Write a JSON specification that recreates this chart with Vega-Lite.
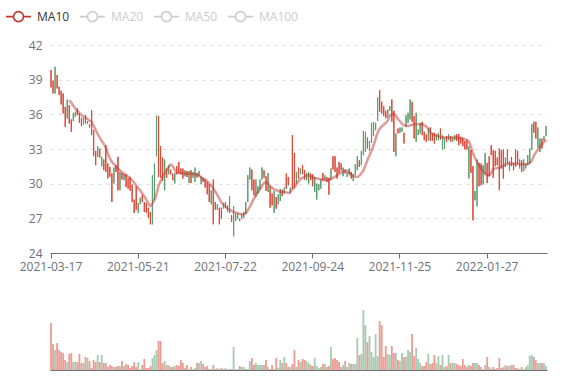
{
"$schema":"https://vega.github.io/schema/vega-lite/v6.json",
"padding":{"left":5,"top":3,"right":10,"bottom":5},
"config":{"font":"Open Sans","view":{"stroke":null},"axis":{"labelColor":"#6e7079","labelFontSize":12,"title":null},"axisY":{"labelOverlap":false,"tickCount":10}},
"spacing":38,
"resolve":{"legend":{"color":"independent"}},
"datasets":{"k":[
{"d":"2021-03-17","o":38.33,"h":39.83,"l":38.33,"c":39.83,"v":47},
{"d":"2021-03-18","o":37.81,"h":38.91,"l":37.81,"c":38.91,"v":26},
{"d":"2021-03-19","o":40.12,"h":40.12,"l":37.81,"c":37.81,"v":20},
{"d":"2021-03-22","o":38.24,"h":39.40,"l":38.24,"c":39.40,"v":27},
{"d":"2021-03-23","o":37.67,"h":38.39,"l":37.67,"c":38.39,"v":20},
{"d":"2021-03-24","o":36.86,"h":38.04,"l":36.86,"c":38.04,"v":18},
{"d":"2021-03-25","o":36.08,"h":37.81,"l":36.08,"c":37.81,"v":17},
{"d":"2021-03-26","o":34.92,"h":36.65,"l":34.92,"c":36.65,"v":10},
{"d":"2021-03-29","o":37.29,"h":37.29,"l":35.64,"c":35.64,"v":8},
{"d":"2021-03-30","o":35.21,"h":36.80,"l":35.21,"c":36.80,"v":16,"m":37.2},
{"d":"2021-03-31","o":34.49,"h":35.56,"l":34.49,"c":35.56,"v":17,"m":37.0},
{"d":"2021-04-01","o":36.13,"h":36.13,"l":35.41,"c":35.41,"v":8,"m":36.75},
{"d":"2021-04-02","o":36.22,"h":36.22,"l":35.79,"c":35.79,"v":8,"m":36.5},
{"d":"2021-04-06","o":35.93,"h":36.51,"l":35.93,"c":36.51,"v":8,"m":36.3},
{"d":"2021-04-07","o":35.27,"h":36.08,"l":35.27,"c":36.08,"v":16,"m":36.1},
{"d":"2021-04-08","o":34.98,"h":35.70,"l":34.98,"c":35.70,"v":7,"m":35.95},
{"d":"2021-04-09","o":35.64,"h":35.64,"l":35.12,"c":35.12,"v":7,"m":35.8},
{"d":"2021-04-12","o":35.21,"h":35.93,"l":35.21,"c":35.93,"v":13,"m":35.7},
{"d":"2021-04-13","o":35.41,"h":35.41,"l":35.15,"c":35.15,"v":12,"m":35.6},
{"d":"2021-04-14","o":34.86,"h":35.15,"l":34.86,"c":35.15,"v":9,"m":35.45},
{"d":"2021-04-15","o":34.20,"h":36.37,"l":34.20,"c":36.37,"v":2,"m":35.35},
{"d":"2021-04-16","o":32.38,"h":34.63,"l":32.38,"c":34.63,"v":10,"m":35.0},
{"d":"2021-04-19","o":31.60,"h":32.84,"l":31.60,"c":32.84,"v":8,"m":34.65},
{"d":"2021-04-20","o":33.24,"h":33.24,"l":32.32,"c":32.32,"v":15,"m":34.3},
{"d":"2021-04-21","o":32.26,"h":33.04,"l":32.26,"c":33.04,"v":8,"m":34.0},
{"d":"2021-04-22","o":32.32,"h":32.32,"l":31.51,"c":31.51,"v":15,"m":33.7},
{"d":"2021-04-23","o":31.16,"h":32.09,"l":31.16,"c":32.09,"v":7,"m":33.45},
{"d":"2021-04-26","o":31.02,"h":33.33,"l":31.02,"c":33.33,"v":7,"m":33.1},
{"d":"2021-04-27","o":30.44,"h":31.74,"l":30.44,"c":31.74,"v":3,"m":32.6},
{"d":"2021-04-28","o":30.59,"h":31.45,"l":30.59,"c":31.45,"v":5,"m":32.2},
{"d":"2021-04-29","o":28.42,"h":30.87,"l":28.42,"c":30.87,"v":4,"m":31.9},
{"d":"2021-04-30","o":31.39,"h":31.39,"l":30.01,"c":30.01,"v":3,"m":31.7},
{"d":"2021-05-06","o":31.02,"h":31.60,"l":31.02,"c":31.60,"v":3,"m":31.5},
{"d":"2021-05-07","o":29.43,"h":32.32,"l":29.43,"c":32.32,"v":4,"m":31.3},
{"d":"2021-05-10","o":31.02,"h":31.02,"l":29.43,"c":29.43,"v":4,"m":31.15},
{"d":"2021-05-11","o":30.35,"h":30.93,"l":30.35,"c":30.93,"v":9,"m":31.0},
{"d":"2021-05-12","o":30.82,"h":30.82,"l":30.30,"c":30.30,"v":4,"m":30.85},
{"d":"2021-05-13","o":29.72,"h":30.82,"l":29.72,"c":30.82,"v":6,"m":30.75},
{"d":"2021-05-14","o":29.57,"h":30.44,"l":29.57,"c":30.44,"v":5,"m":30.6},
{"d":"2021-05-17","o":29.37,"h":30.59,"l":29.37,"c":30.59,"v":2,"m":30.45},
{"d":"2021-05-18","o":28.42,"h":29.90,"l":28.42,"c":29.90,"v":4,"m":30.3},
{"d":"2021-05-19","o":27.46,"h":28.62,"l":27.46,"c":28.62,"v":8,"m":30.1},
{"d":"2021-05-20","o":27.75,"h":29.77,"l":27.75,"c":29.77,"v":3,"m":29.85},
{"d":"2021-05-21","o":28.33,"h":28.33,"l":27.46,"c":27.46,"v":8,"m":29.6},
{"d":"2021-05-24","o":28.79,"h":28.79,"l":28.21,"c":28.21,"v":1,"m":29.4},
{"d":"2021-05-25","o":28.42,"h":28.99,"l":28.42,"c":28.99,"v":5,"m":29.15},
{"d":"2021-05-26","o":27.55,"h":28.42,"l":27.55,"c":28.42,"v":11,"m":28.9},
{"d":"2021-05-27","o":27.46,"h":28.33,"l":27.46,"c":28.33,"v":2,"m":28.6},
{"d":"2021-05-28","o":27.06,"h":27.92,"l":27.06,"c":27.92,"v":2,"m":28.3},
{"d":"2021-05-31","o":26.48,"h":27.55,"l":26.48,"c":27.55,"v":4,"m":28.05},
{"d":"2021-06-01","o":30.73,"h":30.73,"l":26.48,"c":26.48,"v":12,"m":28.3},
{"d":"2021-06-02","o":31.74,"h":31.74,"l":28.56,"c":28.56,"v":15,"m":28.6},
{"d":"2021-06-03","o":35.87,"h":35.87,"l":32.37,"c":32.37,"v":20,"m":29.1},
{"d":"2021-06-04","o":30.58,"h":35.87,"l":30.58,"c":35.87,"v":29,"m":29.8},
{"d":"2021-06-07","o":30.52,"h":33.24,"l":30.52,"c":33.24,"v":29,"m":30.2},
{"d":"2021-06-08","o":30.24,"h":32.26,"l":30.24,"c":32.26,"v":7,"m":30.6},
{"d":"2021-06-09","o":32.09,"h":32.09,"l":29.43,"c":29.43,"v":9,"m":30.9},
{"d":"2021-06-10","o":30.52,"h":31.31,"l":30.52,"c":31.31,"v":5,"m":31.2},
{"d":"2021-06-11","o":31.59,"h":31.59,"l":30.81,"c":30.81,"v":5,"m":31.45},
{"d":"2021-06-15","o":30.81,"h":31.22,"l":30.81,"c":31.22,"v":3,"m":31.65},
{"d":"2021-06-16","o":30.29,"h":30.87,"l":30.29,"c":30.87,"v":3,"m":31.5},
{"d":"2021-06-17","o":30.93,"h":30.93,"l":30.01,"c":30.01,"v":4,"m":31.2},
{"d":"2021-06-18","o":30.81,"h":31.51,"l":30.81,"c":31.51,"v":5,"m":30.95},
{"d":"2021-06-21","o":30.93,"h":31.88,"l":30.93,"c":31.88,"v":4,"m":30.9},
{"d":"2021-06-22","o":30.81,"h":31.31,"l":30.81,"c":31.31,"v":10,"m":30.9},
{"d":"2021-06-23","o":30.44,"h":31.31,"l":30.44,"c":31.31,"v":7,"m":30.9},
{"d":"2021-06-24","o":31.16,"h":31.16,"l":30.64,"c":30.64,"v":2,"m":30.9},
{"d":"2021-06-25","o":30.58,"h":31.10,"l":30.58,"c":31.10,"v":5,"m":30.87},
{"d":"2021-06-28","o":31.10,"h":31.10,"l":30.06,"c":30.06,"v":1,"m":30.85},
{"d":"2021-06-29","o":30.06,"h":31.16,"l":30.06,"c":31.16,"v":3,"m":30.85},
{"d":"2021-06-30","o":31.02,"h":31.02,"l":30.52,"c":30.52,"v":1,"m":30.83},
{"d":"2021-07-01","o":31.39,"h":31.39,"l":30.15,"c":30.15,"v":2,"m":30.82},
{"d":"2021-07-02","o":30.52,"h":30.93,"l":30.52,"c":30.93,"v":7,"m":30.8},
{"d":"2021-07-05","o":31.10,"h":31.10,"l":30.64,"c":30.64,"v":7,"m":30.7},
{"d":"2021-07-06","o":30.64,"h":30.64,"l":29.95,"c":29.95,"v":9,"m":30.55},
{"d":"2021-07-07","o":30.15,"h":30.52,"l":30.15,"c":30.52,"v":6,"m":30.4},
{"d":"2021-07-08","o":29.66,"h":30.35,"l":29.66,"c":30.35,"v":3,"m":30.35},
{"d":"2021-07-09","o":29.08,"h":30.15,"l":29.08,"c":30.15,"v":4,"m":30.2},
{"d":"2021-07-12","o":28.42,"h":29.95,"l":28.42,"c":29.95,"v":1,"m":30.0},
{"d":"2021-07-13","o":29.43,"h":29.43,"l":28.21,"c":28.21,"v":1,"m":29.8},
{"d":"2021-07-14","o":26.48,"h":30.35,"l":26.48,"c":30.35,"v":5,"m":29.6},
{"d":"2021-07-15","o":27.75,"h":28.42,"l":27.75,"c":28.42,"v":1,"m":29.3},
{"d":"2021-07-16","o":28.21,"h":28.21,"l":27.75,"c":27.75,"v":2,"m":29.0},
{"d":"2021-07-19","o":26.48,"h":27.92,"l":26.48,"c":27.92,"v":1,"m":28.7},
{"d":"2021-07-20","o":26.97,"h":27.92,"l":26.97,"c":27.92,"v":2,"m":28.4},
{"d":"2021-07-21","o":28.33,"h":28.33,"l":27.84,"c":27.84,"v":1,"m":28.2},
{"d":"2021-07-22","o":28.42,"h":28.42,"l":27.92,"c":27.92,"v":2,"m":28.0},
{"d":"2021-07-23","o":28.13,"h":28.13,"l":27.55,"c":27.55,"v":1,"m":27.85},
{"d":"2021-07-26","o":28.91,"h":28.91,"l":27.46,"c":27.46,"v":1,"m":27.75},
{"d":"2021-07-27","o":26.68,"h":27.26,"l":26.68,"c":27.26,"v":1,"m":27.65},
{"d":"2021-07-28","o":28.04,"h":28.04,"l":25.44,"c":25.44,"v":23,"m":27.55},
{"d":"2021-07-29","o":27.40,"h":27.40,"l":26.77,"c":26.77,"v":1,"m":27.5},
{"d":"2021-07-30","o":27.46,"h":27.46,"l":26.97,"c":26.97,"v":1,"m":27.45},
{"d":"2021-08-02","o":26.77,"h":26.97,"l":26.77,"c":26.97,"v":4,"m":27.4},
{"d":"2021-08-03","o":27.35,"h":27.35,"l":26.97,"c":26.97,"v":3,"m":27.37},
{"d":"2021-08-04","o":27.55,"h":27.55,"l":27.06,"c":27.06,"v":3,"m":27.35},
{"d":"2021-08-05","o":28.42,"h":28.42,"l":27.40,"c":27.40,"v":1,"m":27.45},
{"d":"2021-08-06","o":30.73,"h":30.73,"l":28.42,"c":28.42,"v":1,"m":27.7},
{"d":"2021-08-09","o":31.39,"h":31.39,"l":30.35,"c":30.35,"v":9,"m":28.0},
{"d":"2021-08-10","o":29.43,"h":31.22,"l":29.43,"c":31.22,"v":12,"m":28.35},
{"d":"2021-08-11","o":28.99,"h":30.35,"l":28.99,"c":30.35,"v":5,"m":28.7},
{"d":"2021-08-12","o":30.35,"h":30.35,"l":28.85,"c":28.85,"v":7,"m":29.0},
{"d":"2021-08-13","o":29.77,"h":29.77,"l":29.14,"c":29.14,"v":5,"m":29.25},
{"d":"2021-08-17","o":30.35,"h":30.35,"l":29.48,"c":29.48,"v":5,"m":29.5},
{"d":"2021-08-18","o":31.39,"h":31.39,"l":30.35,"c":30.35,"v":5,"m":29.8},
{"d":"2021-08-19","o":30.52,"h":31.16,"l":30.52,"c":31.16,"v":5,"m":30.05},
{"d":"2021-08-20","o":29.37,"h":30.64,"l":29.37,"c":30.64,"v":10,"m":30.15},
{"d":"2021-08-23","o":30.93,"h":30.93,"l":29.28,"c":29.28,"v":3,"m":30.0},
{"d":"2021-08-24","o":27.92,"h":29.77,"l":27.92,"c":29.77,"v":1,"m":29.8},
{"d":"2021-08-25","o":28.13,"h":29.14,"l":28.13,"c":29.14,"v":5,"m":29.65},
{"d":"2021-08-26","o":29.37,"h":29.37,"l":27.46,"c":27.46,"v":1,"m":29.5},
{"d":"2021-08-27","o":27.84,"h":28.85,"l":27.84,"c":28.85,"v":12,"m":29.45},
{"d":"2021-08-30","o":29.08,"h":29.08,"l":28.21,"c":28.21,"v":2,"m":29.35},
{"d":"2021-08-31","o":29.57,"h":29.57,"l":28.50,"c":28.50,"v":10,"m":29.3},
{"d":"2021-09-01","o":28.91,"h":29.48,"l":28.91,"c":29.48,"v":7,"m":29.28},
{"d":"2021-09-02","o":29.66,"h":29.66,"l":29.14,"c":29.14,"v":13,"m":29.27},
{"d":"2021-09-03","o":29.57,"h":30.87,"l":29.57,"c":30.87,"v":7,"m":29.25},
{"d":"2021-09-06","o":29.86,"h":30.58,"l":29.86,"c":30.58,"v":3,"m":29.2},
{"d":"2021-09-07","o":29.66,"h":29.66,"l":29.14,"c":29.14,"v":3,"m":29.3},
{"d":"2021-09-08","o":29.57,"h":34.20,"l":29.57,"c":34.20,"v":6,"m":29.5},
{"d":"2021-09-09","o":29.66,"h":32.66,"l":29.66,"c":32.66,"v":20,"m":29.7},
{"d":"2021-09-10","o":31.02,"h":31.02,"l":30.01,"c":30.01,"v":3,"m":29.95},
{"d":"2021-09-13","o":30.44,"h":31.39,"l":30.44,"c":31.39,"v":10,"m":30.2},
{"d":"2021-09-14","o":31.31,"h":31.31,"l":30.81,"c":30.81,"v":8,"m":30.4},
{"d":"2021-09-15","o":30.81,"h":31.59,"l":30.81,"c":31.59,"v":11,"m":30.5},
{"d":"2021-09-16","o":30.35,"h":31.16,"l":30.35,"c":31.16,"v":10,"m":30.6},
{"d":"2021-09-17","o":30.93,"h":30.93,"l":30.30,"c":30.30,"v":9,"m":30.7},
{"d":"2021-09-22","o":31.02,"h":31.02,"l":30.01,"c":30.01,"v":7,"m":30.73},
{"d":"2021-09-23","o":30.30,"h":30.87,"l":30.30,"c":30.87,"v":5,"m":30.65},
{"d":"2021-09-24","o":29.77,"h":30.82,"l":29.77,"c":30.82,"v":4,"m":30.55},
{"d":"2021-09-27","o":30.58,"h":30.58,"l":29.28,"c":29.28,"v":12,"m":30.5},
{"d":"2021-09-28","o":30.01,"h":30.01,"l":28.62,"c":28.62,"v":4,"m":30.45},
{"d":"2021-09-29","o":29.95,"h":29.95,"l":29.43,"c":29.43,"v":2,"m":30.42},
{"d":"2021-09-30","o":30.35,"h":30.35,"l":29.57,"c":29.57,"v":3,"m":30.38},
{"d":"2021-10-04","o":30.30,"h":30.93,"l":30.30,"c":30.93,"v":6,"m":30.33},
{"d":"2021-10-05","o":30.73,"h":30.73,"l":30.30,"c":30.30,"v":6,"m":30.3},
{"d":"2021-10-06","o":30.15,"h":30.58,"l":30.15,"c":30.58,"v":3,"m":30.3},
{"d":"2021-10-07","o":29.05,"h":30.52,"l":29.05,"c":30.52,"v":4,"m":30.32},
{"d":"2021-10-08","o":31.31,"h":31.31,"l":30.35,"c":30.35,"v":23,"m":30.4},
{"d":"2021-10-11","o":31.22,"h":32.37,"l":31.22,"c":32.37,"v":11,"m":30.5},
{"d":"2021-10-12","o":31.02,"h":32.37,"l":31.02,"c":32.37,"v":12,"m":30.6},
{"d":"2021-10-13","o":30.44,"h":31.39,"l":30.44,"c":31.39,"v":10,"m":30.72},
{"d":"2021-10-14","o":30.93,"h":31.88,"l":30.93,"c":31.88,"v":8,"m":30.85},
{"d":"2021-10-15","o":31.16,"h":31.74,"l":31.16,"c":31.74,"v":3,"m":30.95},
{"d":"2021-10-18","o":31.39,"h":31.39,"l":30.64,"c":30.64,"v":5,"m":31.05},
{"d":"2021-10-19","o":30.87,"h":31.22,"l":30.87,"c":31.22,"v":9,"m":31.12},
{"d":"2021-10-20","o":31.02,"h":31.02,"l":30.58,"c":30.58,"v":3,"m":31.15},
{"d":"2021-10-21","o":31.31,"h":31.31,"l":30.73,"c":30.73,"v":7,"m":31.0},
{"d":"2021-10-22","o":30.44,"h":31.02,"l":30.44,"c":31.02,"v":6,"m":30.8},
{"d":"2021-10-25","o":30.82,"h":30.82,"l":30.24,"c":30.24,"v":6,"m":30.65},
{"d":"2021-10-26","o":31.68,"h":31.68,"l":30.73,"c":30.73,"v":6,"m":30.6},
{"d":"2021-10-27","o":32.37,"h":32.37,"l":31.16,"c":31.16,"v":32,"m":30.58},
{"d":"2021-10-28","o":31.45,"h":32.03,"l":31.45,"c":32.03,"v":15,"m":30.7},
{"d":"2021-10-29","o":32.84,"h":32.84,"l":31.60,"c":31.60,"v":16,"m":30.9},
{"d":"2021-11-01","o":34.57,"h":34.57,"l":32.46,"c":32.46,"v":60,"m":31.15},
{"d":"2021-11-02","o":34.49,"h":34.49,"l":32.75,"c":32.75,"v":45,"m":31.6},
{"d":"2021-11-03","o":33.04,"h":33.99,"l":33.04,"c":33.99,"v":28,"m":32.05},
{"d":"2021-11-04","o":33.71,"h":33.71,"l":32.84,"c":32.84,"v":34,"m":32.45},
{"d":"2021-11-05","o":35.27,"h":35.27,"l":33.53,"c":33.53,"v":18,"m":32.85},
{"d":"2021-11-08","o":35.35,"h":35.35,"l":34.11,"c":34.11,"v":13,"m":33.3},
{"d":"2021-11-09","o":35.27,"h":35.27,"l":34.63,"c":34.63,"v":36,"m":33.85},
{"d":"2021-11-10","o":37.46,"h":37.46,"l":35.44,"c":35.44,"v":14,"m":34.4},
{"d":"2021-11-11","o":36.22,"h":38.10,"l":36.22,"c":38.10,"v":49,"m":34.75},
{"d":"2021-11-12","o":36.08,"h":37.09,"l":36.08,"c":37.09,"v":45,"m":34.95},
{"d":"2021-11-15","o":35.84,"h":36.71,"l":35.84,"c":36.71,"v":13,"m":35.1},
{"d":"2021-11-16","o":35.64,"h":36.31,"l":35.64,"c":36.31,"v":24,"m":35.25},
{"d":"2021-11-17","o":36.42,"h":36.42,"l":35.73,"c":35.73,"v":16,"m":35.45},
{"d":"2021-11-18","o":36.71,"h":36.71,"l":36.31,"c":36.31,"v":15,"m":35.85},
{"d":"2021-11-19","o":35.35,"h":37.29,"l":35.35,"c":37.29,"v":24,"m":36.0},
{"d":"2021-11-22","o":32.75,"h":36.31,"l":32.75,"c":36.31,"v":17,"m":36.05},
{"d":"2021-11-23","o":34.34,"h":34.34,"l":32.38,"c":32.38,"v":17,"m":35.85},
{"d":"2021-11-24","o":34.34,"h":34.77,"l":34.34,"c":34.77,"v":10,"m":35.6},
{"d":"2021-11-25","o":34.86,"h":34.86,"l":34.40,"c":34.40,"v":9,"m":35.4},
{"d":"2021-11-26","o":34.86,"h":34.86,"l":34.49,"c":34.49,"v":17,"m":35.2},
{"d":"2021-11-29","o":33.47,"h":34.40,"l":33.47,"c":34.40,"v":13,"m":35.05},
{"d":"2021-11-30","o":35.93,"h":35.93,"l":34.92,"c":34.92,"v":13,"m":35.0},
{"d":"2021-12-01","o":36.13,"h":36.13,"l":35.27,"c":35.27,"v":20,"m":34.98},
{"d":"2021-12-02","o":37.29,"h":37.29,"l":35.55,"c":35.55,"v":18,"m":35.05},
{"d":"2021-12-03","o":35.35,"h":37.09,"l":35.35,"c":37.09,"v":36,"m":35.1},
{"d":"2021-12-06","o":33.91,"h":35.84,"l":33.91,"c":35.84,"v":14,"m":35.15},
{"d":"2021-12-07","o":36.13,"h":36.13,"l":33.62,"c":33.62,"v":22,"m":35.15},
{"d":"2021-12-08","o":34.69,"h":34.69,"l":34.20,"c":34.20,"v":11,"m":35.15},
{"d":"2021-12-09","o":35.27,"h":35.27,"l":34.34,"c":34.34,"v":7,"m":35.15},
{"d":"2021-12-10","o":34.20,"h":35.35,"l":34.20,"c":35.35,"v":4,"m":35.15},
{"d":"2021-12-13","o":33.76,"h":34.49,"l":33.76,"c":34.49,"v":4,"m":35.05},
{"d":"2021-12-14","o":33.62,"h":34.28,"l":33.62,"c":34.28,"v":8,"m":34.95},
{"d":"2021-12-15","o":34.77,"h":34.77,"l":33.76,"c":33.76,"v":16,"m":34.75},
{"d":"2021-12-16","o":33.70,"h":34.86,"l":33.70,"c":34.86,"v":6,"m":34.5},
{"d":"2021-12-17","o":33.70,"h":34.34,"l":33.70,"c":34.34,"v":7,"m":34.3},
{"d":"2021-12-20","o":33.47,"h":34.40,"l":33.47,"c":34.40,"v":15,"m":34.2},
{"d":"2021-12-21","o":34.28,"h":34.28,"l":33.76,"c":33.76,"v":7,"m":34.15},
{"d":"2021-12-22","o":34.40,"h":34.40,"l":33.76,"c":33.76,"v":14,"m":34.1},
{"d":"2021-12-23","o":33.82,"h":34.77,"l":33.82,"c":34.77,"v":5,"m":34.05},
{"d":"2021-12-24","o":34.20,"h":34.20,"l":32.95,"c":32.95,"v":15,"m":34.02},
{"d":"2021-12-27","o":33.99,"h":33.99,"l":33.04,"c":33.04,"v":3,"m":34.0},
{"d":"2021-12-28","o":33.62,"h":34.11,"l":33.62,"c":34.11,"v":4,"m":34.0},
{"d":"2021-12-29","o":34.28,"h":34.28,"l":33.76,"c":33.76,"v":15,"m":34.0},
{"d":"2021-12-30","o":33.62,"h":34.11,"l":33.62,"c":34.11,"v":7,"m":34.0},
{"d":"2022-01-04","o":33.99,"h":33.99,"l":33.62,"c":33.62,"v":7,"m":34.0},
{"d":"2022-01-05","o":34.20,"h":34.20,"l":33.76,"c":33.76,"v":7,"m":34.0},
{"d":"2022-01-06","o":33.70,"h":34.28,"l":33.70,"c":34.28,"v":6,"m":34.0},
{"d":"2022-01-07","o":33.33,"h":34.28,"l":33.33,"c":34.28,"v":5,"m":33.98},
{"d":"2022-01-10","o":33.47,"h":33.99,"l":33.47,"c":33.99,"v":4,"m":33.97},
{"d":"2022-01-11","o":33.24,"h":33.91,"l":33.24,"c":33.91,"v":11,"m":33.92},
{"d":"2022-01-12","o":32.95,"h":33.70,"l":32.95,"c":33.70,"v":5,"m":33.85},
{"d":"2022-01-13","o":32.95,"h":33.76,"l":32.95,"c":33.76,"v":3,"m":33.78},
{"d":"2022-01-14","o":33.24,"h":33.24,"l":30.44,"c":30.44,"v":5,"m":33.62},
{"d":"2022-01-17","o":30.93,"h":32.90,"l":30.93,"c":32.90,"v":4,"m":33.2},
{"d":"2022-01-18","o":26.83,"h":31.51,"l":26.83,"c":31.51,"v":7,"m":32.65},
{"d":"2022-01-19","o":29.37,"h":29.37,"l":28.56,"c":28.56,"v":7,"m":32.25},
{"d":"2022-01-20","o":32.09,"h":32.09,"l":28.04,"c":28.04,"v":7,"m":31.9},
{"d":"2022-01-21","o":29.77,"h":31.80,"l":29.77,"c":31.80,"v":5,"m":31.6},
{"d":"2022-01-24","o":29.86,"h":31.74,"l":29.86,"c":31.74,"v":3,"m":31.3},
{"d":"2022-01-25","o":31.60,"h":31.60,"l":29.95,"c":29.95,"v":1,"m":31.05},
{"d":"2022-01-26","o":32.66,"h":32.66,"l":30.81,"c":30.81,"v":5,"m":30.85},
{"d":"2022-01-27","o":30.06,"h":31.80,"l":30.06,"c":31.80,"v":13,"m":30.75},
{"d":"2022-01-28","o":30.64,"h":32.37,"l":30.64,"c":32.37,"v":3,"m":30.73},
{"d":"2022-02-07","o":32.46,"h":33.33,"l":32.46,"c":33.33,"v":1,"m":30.95},
{"d":"2022-02-08","o":30.52,"h":32.90,"l":30.52,"c":32.90,"v":3,"m":31.25},
{"d":"2022-02-09","o":31.51,"h":32.84,"l":31.51,"c":32.84,"v":1,"m":31.32},
{"d":"2022-02-10","o":31.60,"h":32.26,"l":31.60,"c":32.26,"v":2,"m":31.35},
{"d":"2022-02-11","o":29.43,"h":33.04,"l":29.43,"c":33.04,"v":12,"m":31.38},
{"d":"2022-02-14","o":31.31,"h":32.90,"l":31.31,"c":32.90,"v":2,"m":31.45},
{"d":"2022-02-15","o":30.44,"h":32.95,"l":30.44,"c":32.95,"v":3,"m":31.55},
{"d":"2022-02-16","o":32.26,"h":32.26,"l":31.45,"c":31.45,"v":5,"m":31.65},
{"d":"2022-02-17","o":31.74,"h":32.95,"l":31.74,"c":32.95,"v":4,"m":31.7},
{"d":"2022-02-18","o":31.97,"h":31.97,"l":31.10,"c":31.10,"v":4,"m":31.72},
{"d":"2022-02-21","o":31.51,"h":32.32,"l":31.51,"c":32.32,"v":5,"m":31.73},
{"d":"2022-02-22","o":31.16,"h":31.80,"l":31.16,"c":31.80,"v":5,"m":31.74},
{"d":"2022-02-23","o":31.45,"h":32.95,"l":31.45,"c":32.95,"v":2,"m":31.72},
{"d":"2022-02-24","o":31.68,"h":32.84,"l":31.68,"c":32.84,"v":2,"m":31.7},
{"d":"2022-02-25","o":32.09,"h":32.09,"l":31.31,"c":31.31,"v":1,"m":31.68},
{"d":"2022-02-28","o":31.02,"h":32.03,"l":31.02,"c":32.03,"v":3,"m":31.68},
{"d":"2022-03-01","o":32.09,"h":32.09,"l":31.10,"c":31.10,"v":1,"m":31.68},
{"d":"2022-03-02","o":31.74,"h":31.74,"l":31.31,"c":31.31,"v":3,"m":31.68},
{"d":"2022-03-03","o":32.46,"h":32.46,"l":31.60,"c":31.60,"v":5,"m":31.68},
{"d":"2022-03-04","o":33.04,"h":33.04,"l":31.74,"c":31.74,"v":14,"m":31.8},
{"d":"2022-03-07","o":35.15,"h":35.15,"l":32.95,"c":32.95,"v":15,"m":32.0},
{"d":"2022-03-08","o":34.40,"h":35.35,"l":34.40,"c":35.35,"v":13,"m":32.4},
{"d":"2022-03-09","o":33.91,"h":35.35,"l":33.91,"c":35.35,"v":10,"m":32.7},
{"d":"2022-03-10","o":34.86,"h":34.86,"l":33.13,"c":33.13,"v":7,"m":32.95},
{"d":"2022-03-11","o":33.91,"h":33.91,"l":32.75,"c":32.75,"v":7,"m":33.2},
{"d":"2022-03-14","o":33.04,"h":33.91,"l":33.04,"c":33.91,"v":7,"m":33.4},
{"d":"2022-03-15","o":34.11,"h":34.11,"l":33.76,"c":33.76,"v":7,"m":33.6},
{"d":"2022-03-16","o":34.98,"h":34.98,"l":34.11,"c":34.11,"v":4,"m":33.82}
]},
"vconcat":[
{
"width":497,"height":208,
"data":{"name":"k"},
"encoding":{"x":{"field":"d","type":"ordinal","sort":null,"scale":{"type":"band","paddingInner":0,"paddingOuter":0},
 "axis":{"values":["2021-03-17","2021-05-21","2021-07-22","2021-09-24","2021-11-25","2022-01-27"],"labelAngle":0,"labelOverlap":false,"domainColor":"#6e7079","tickColor":"#6e7079","tickSize":5,"labelPadding":3,"grid":false}}},
"layer":[
 {"mark":{"type":"rule","strokeWidth":1},
  "encoding":{"y":{"field":"l","type":"quantitative","scale":{"domain":[24,42],"zero":false,"nice":false},
   "axis":{"values":[24,27,30,33,36,39,42],"tickCount":10,"labelOverlap":false,"domain":false,"ticks":false,"tickSize":0,"labelPadding":8,"gridColor":"#e0e0e0","gridDash":[4,4],"grid":true}},
   "y2":{"field":"h"},
   "color":{"condition":{"test":"datum.c >= datum.o","value":"#dd4a3a"},"value":"#5c9e72"}}},
 {"mark":{"type":"bar","width":{"band":0.6}},
  "encoding":{"y":{"field":"o","type":"quantitative"},
   "y2":{"field":"c"},
   "color":{"condition":{"test":"datum.c >= datum.o","value":"#dd4a3a"},"value":"#5c9e72"}}},
 {"mark":{"type":"line","interpolate":"monotone","strokeWidth":2.5,"opacity":0.5},
  "encoding":{"y":{"field":"m","type":"quantitative"},
   "color":{"datum":"MA10","type":"nominal","scale":{"domain":["MA10","MA20","MA50","MA100"],"range":["#c23531","#cccccc","#cccccc","#cccccc"]},
    "legend":{"orient":"none","legendX":-45,"legendY":-42,"direction":"horizontal","title":null,
     "symbolType":"M-1,0H-0.4M0.4,0H1M0.4,0A0.4,0.4,0,1,1,-0.4,0A0.4,0.4,0,1,1,0.4,0",
     "symbolSize":625,"symbolStrokeWidth":1.6,"symbolFillColor":"#ffffff","symbolOpacity":1,
     "labelFontSize":12,"labelOffset":5,"columnPadding":6,
     "encode":{"labels":{"update":{"fill":{"signal":"datum.label === 'MA10' ? '#333333' : '#cccccc'"}}}}}}}}
]
},
{
"width":497,"height":60,
"data":{"name":"k"},
"mark":{"type":"bar","width":{"band":0.9}},
"encoding":{
 "x":{"field":"d","type":"ordinal","sort":null,"scale":{"type":"band","paddingInner":0,"paddingOuter":0},
  "axis":{"labels":false,"ticks":false,"domainColor":"#6e7079","grid":false}},
 "y":{"field":"v","type":"quantitative","scale":{"domain":[0,60]},"axis":null},
 "color":{"condition":{"test":"datum.c >= datum.o","value":"#dd4a3a"},"value":"#5c9e72"},
 "opacity":{"value":0.55}}
}
]
}
